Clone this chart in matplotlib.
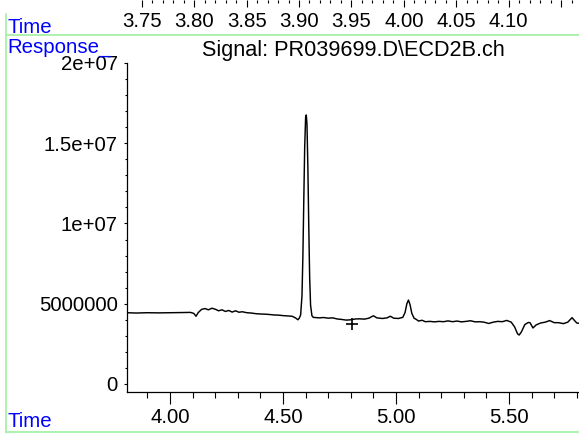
import matplotlib
matplotlib.use('Agg')
import matplotlib.pyplot as plt
from matplotlib.lines import Line2D

plt.rcParams['font.family'] = ['Liberation Sans', 'DejaVu Sans']

# trace (time in min, response in millions)
time = [3.810, 3.850, 3.900, 3.950, 4.000, 4.050, 4.090, 4.105, 4.115, 4.125,
        4.140, 4.155, 4.170, 4.185, 4.200, 4.215, 4.230, 4.245, 4.260, 4.275,
        4.290, 4.305, 4.320, 4.340, 4.360, 4.380, 4.400, 4.420, 4.440, 4.460,
        4.480, 4.500, 4.520, 4.540, 4.555, 4.566, 4.572, 4.578, 4.584, 4.588,
        4.592, 4.596, 4.600, 4.603, 4.606, 4.610, 4.614, 4.618, 4.622, 4.628,
        4.634, 4.660, 4.680, 4.700, 4.720, 4.740, 4.760, 4.780, 4.800, 4.820,
        4.840, 4.860, 4.880, 4.900, 4.915, 4.940, 4.960, 4.975, 4.990, 5.010,
        5.030, 5.040, 5.048, 5.055, 5.062, 5.070, 5.080, 5.090, 5.100, 5.115,
        5.130, 5.150, 5.170, 5.190, 5.210, 5.230, 5.250, 5.270, 5.290, 5.310,
        5.330, 5.350, 5.370, 5.390, 5.410, 5.430, 5.450, 5.470, 5.490, 5.510,
        5.525, 5.538, 5.545, 5.555, 5.570, 5.585, 5.593, 5.606, 5.620, 5.640,
        5.660, 5.680, 5.700, 5.720, 5.740, 5.760, 5.770, 5.779, 5.790, 5.800,
        5.810]
response = [4.44, 4.42, 4.44, 4.43, 4.44, 4.45, 4.46, 4.40, 4.22, 4.45,
            4.65, 4.70, 4.62, 4.72, 4.66, 4.56, 4.62, 4.52, 4.58, 4.48,
            4.56, 4.47, 4.50, 4.44, 4.42, 4.38, 4.36, 4.35, 4.33, 4.30,
            4.29, 4.26, 4.24, 4.22, 4.12, 4.00, 4.10, 4.30, 5.50, 8.00,
            11.5, 14.8, 16.6, 16.76, 16.2, 13.5, 9.80, 6.60, 4.90, 4.25,
            4.15, 4.12, 4.14, 4.10, 4.12, 4.05, 4.02, 3.98, 4.00, 4.05,
            4.06, 4.04, 4.10, 4.25, 4.12, 4.08, 4.12, 4.22, 4.10, 4.08,
            4.15, 4.45, 5.00, 5.23, 4.95, 4.40, 4.10, 4.02, 3.92, 3.97,
            3.88, 3.90, 3.87, 3.90, 3.88, 3.93, 3.88, 3.92, 3.87, 3.90,
            3.94, 3.87, 3.88, 3.85, 3.77, 3.85, 3.90, 3.88, 3.96, 3.85,
            3.55, 3.12, 3.05, 3.25, 3.70, 3.83, 3.82, 3.49, 3.68, 3.80,
            3.85, 3.95, 3.82, 3.82, 3.76, 3.85, 4.00, 4.13, 3.95, 3.80,
            3.78]

cross_time = 4.805
cross_resp = 3.74

x_ticks = [4.0, 4.5, 5.0, 5.5]
x_labels = ['4.00', '4.50', '5.00', '5.50']
y_ticks = [0, 5e6, 1e7, 1.5e7, 2e7]
y_labels = ['0', '5000000', '1e+07', '1.5e+07', '2e+07']

top_ticks = [3.75, 3.80, 3.85, 3.90, 3.95, 4.00, 4.05, 4.10, 4.15]
top_labels = ['3.75', '3.80', '3.85', '3.90', '3.95', '4.00', '4.05', '4.10', '']

W, H = 579, 434
fs = 14.7
fig = plt.figure(figsize=(W / 100, H / 100), dpi=100)

# main chromatogram
ax = fig.add_axes([127 / W, (H - 392) / H, (W - 127) / W, (392 - 63) / H])
ax.plot(time, [r * 1e6 for r in response], color='black', lw=1.05)
ax.plot(cross_time, cross_resp * 1e6, marker='+', color='black', ms=8, mew=1.2)
ax.set_xlim(3.8097, 5.8097)
ax.set_ylim(-0.5e6, 2e7)
ax.set_xticks(x_ticks)
ax.set_xticklabels(x_labels)
ax.set_xticks([3.9 + 0.1 * i for i in range(20)], minor=True)
ax.set_yticks(y_ticks)
ax.set_yticklabels(y_labels)
ax.set_yticks([1e6 * i for i in range(21)], minor=True)
for s in ['top', 'right']:
    ax.spines[s].set_visible(False)
ax.spines['left'].set_linewidth(0.9)
ax.spines['bottom'].set_linewidth(0.9)
ax.tick_params(axis='x', which='major', length=8.6, width=0.8, pad=3, labelsize=fs)
ax.tick_params(axis='x', which='minor', length=4.3, width=0.8)
ax.tick_params(axis='y', which='major', length=2.5, width=0.8, pad=4.3, labelsize=fs)
ax.tick_params(axis='y', which='minor', length=1.5, width=0.8)
ax.set_title('Signal: PR039699.D\\ECD2B.ch', fontsize=15.6, pad=5)
ax.patch.set_visible(False)

# strip of the previous panel's time axis at the top
ax_top = fig.add_axes([0, 1.0, 1, 0.05])
ax_top.set_xlim(3.6149, 4.167)
ax_top.set_xticks(top_ticks)
ax_top.set_xticklabels(top_labels)
ax_top.set_xticks([3.75 + 0.01 * i for i in range(42)], minor=True)
ax_top.set_yticks([])
for s in ax_top.spines.values():
    s.set_visible(False)
ax_top.tick_params(axis='x', which='major', length=5, width=0.8, pad=3.6, labelsize=fs)
ax_top.tick_params(axis='x', which='minor', length=2.2, width=0.8)
ax_top.patch.set_visible(False)

# frame lines
green = '#a0f0a0'
fig.add_artist(Line2D([5.5 / W, 1], [1 - 35 / H, 1 - 35 / H], color=green, lw=1.2))
fig.add_artist(Line2D([5.5 / W, 5.5 / W], [1 - 14 / H, 1 - 432 / H], color=green, lw=1.2))
fig.add_artist(Line2D([5.5 / W, 1], [1 - 432 / H, 1 - 432 / H], color=green, lw=1.2))

fig.text(7 / W, 1 - 33 / H, 'Time', color='blue', fontsize=fs, va='baseline')
fig.text(7 / W, 1 - 53 / H, 'Response_', color='blue', fontsize=fs, va='baseline')
fig.text(7 / W, 1 - 427 / H, 'Time', color='blue', fontsize=fs, va='baseline')

fig.savefig('out.png', dpi=100)
